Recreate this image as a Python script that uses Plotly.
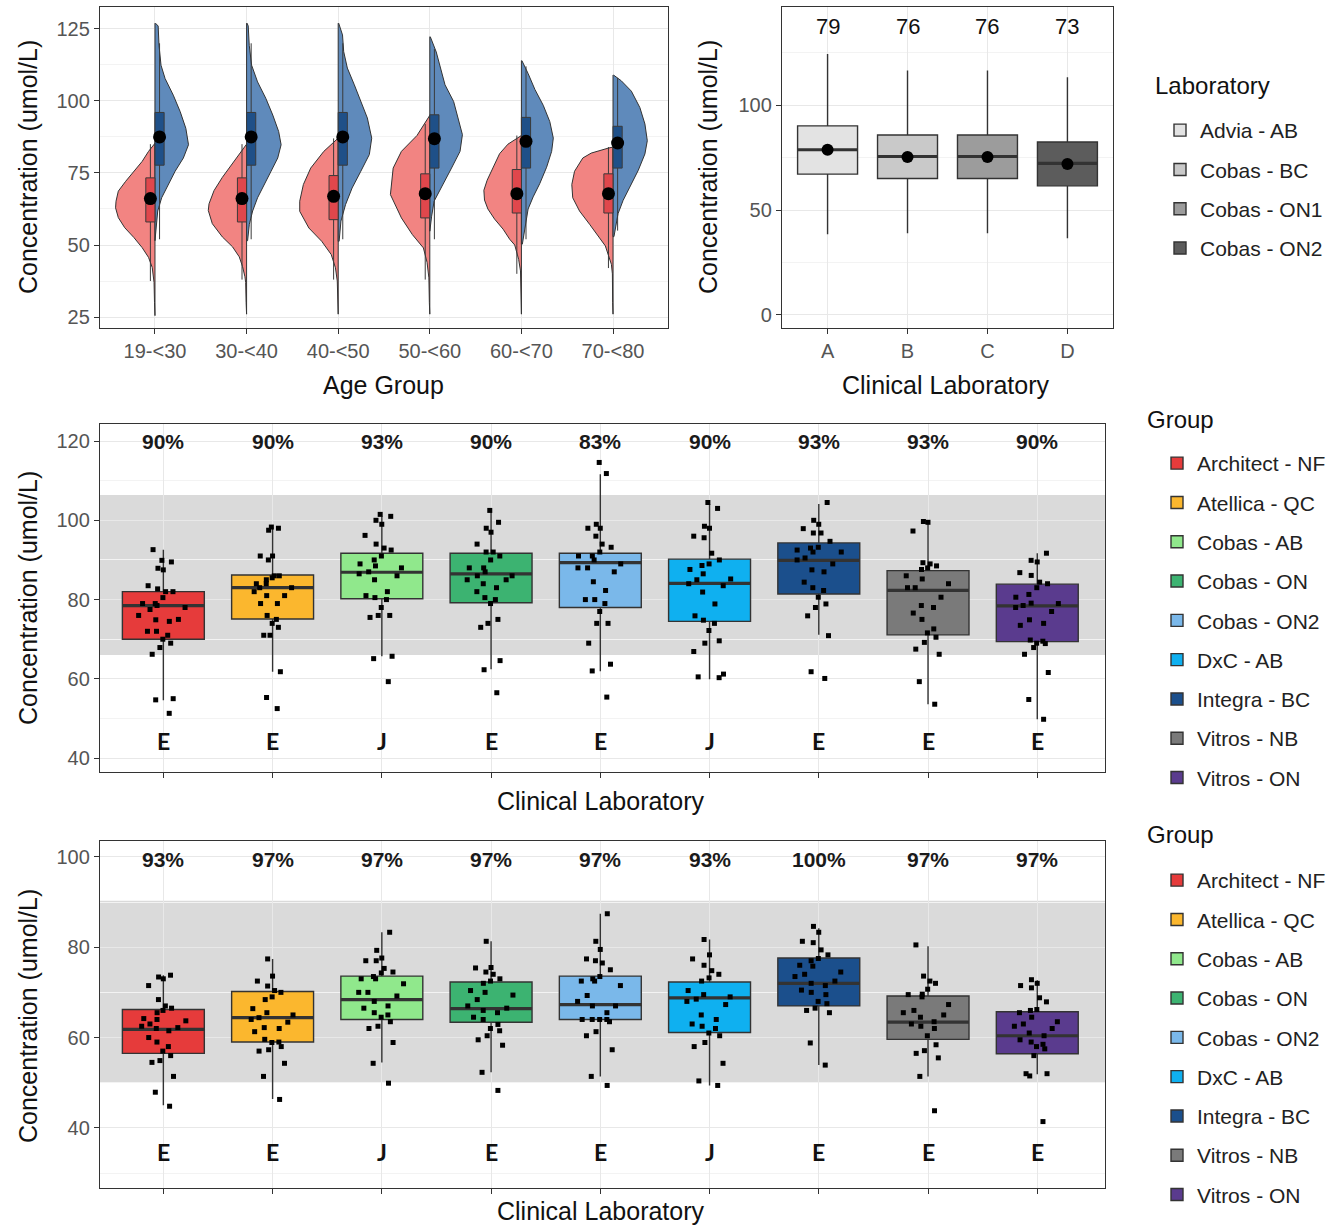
import plotly.graph_objects as go

# ---------------- DATA ----------------
# Panel 1: split violins by age group (female = red, left; male = blue, right)
age_groups = ['19-<30', '30-<40', '40-<50', '50-<60', '60-<70', '70-<80']

# density profiles: concentration levels and relative half-width density (hundredths)
female_levels = [
    [85.3, 82.5, 79.0, 75.6, 72.1, 68.7, 65.2, 62.9, 59.5, 56.0, 52.6, 49.1, 45.7, 42.2, 38.8, 37.0, 30.0, 25.5],
    [85.0, 81.6, 78.1, 73.5, 68.9, 64.3, 62.0, 57.4, 52.8, 49.4, 45.9, 42.5, 39.0, 37.0, 30.0, 26.0],
    [87.1, 82.5, 76.7, 71.0, 65.2, 61.7, 55.9, 51.3, 46.7, 42.1, 37.5, 30.0, 26.0],
    [95.0, 88.0, 82.5, 76.7, 67.5, 59.4, 53.6, 49.0, 44.0, 38.6, 30.0, 26.0],
    [88.0, 85.0, 81.7, 77.0, 72.5, 69.0, 65.6, 62.5, 59.0, 55.5, 52.0, 50.0, 45.0, 41.0, 30.0, 26.0],
    [84.0, 83.6, 81.9, 80.2, 75.6, 71.0, 66.4, 61.8, 57.2, 52.6, 49.7, 43.3, 40.0, 30.0, 26.0],
]
female_density = [
    [0, 7, 14, 23, 32, 40, 42.5, 43, 40, 33, 23, 14, 7, 3, 2, 1, 0.5, 0.3],
    [0, 8, 15.4, 26.4, 35.5, 41, 41.8, 37.4, 26.4, 15.4, 8, 4.4, 1.8, 1, 0.5, 0.3],
    [0, 15.7, 30, 38, 42, 42, 32, 18, 7.6, 3, 1, 0.5, 0.3],
    [0, 14, 31, 40, 43, 31, 19, 7, 3, 1, 0.5, 0.3],
    [0, 14.7, 23.8, 31, 37.4, 41, 40.3, 36.6, 29.3, 20, 12.8, 7.3, 3, 1, 0.5, 0.3],
    [0, 5.5, 23.8, 33, 42, 45, 44, 36.6, 25.6, 14.7, 8.4, 1.8, 0.7, 0.4, 0.3],
]
male_levels = [
    [127.0, 126.0, 119.3, 112.4, 107.8, 102.0, 96.3, 90.5, 84.8, 80.2, 75.6, 71.0, 66.4, 61.8, 56.0, 51.5],
    [127.0, 126.0, 119.3, 112.4, 106.6, 100.9, 95.1, 89.4, 84.8, 80.2, 75.6, 71.0, 66.4, 61.8, 57.2, 51.5],
    [127.0, 122.9, 117.1, 111.4, 105.6, 99.8, 94.1, 87.1, 81.4, 75.6, 69.8, 64.0, 58.3, 51.3],
    [122.3, 117.0, 105.6, 99.8, 88.3, 82.5, 76.7, 69.8, 65.2, 60.0, 54.8],
    [114.0, 109.5, 104.0, 98.5, 92.8, 87.1, 82.5, 77.0, 71.3, 66.7, 62.5, 57.5, 50.3],
    [109.0, 107.0, 103.4, 97.7, 92.0, 86.2, 81.6, 75.9, 70.1, 65.5, 60.9, 52.9],
]
male_density = [
    [0.5, 3.5, 4.4, 6.6, 11, 20, 27.5, 33.7, 36.6, 31, 22, 14.7, 7.3, 3, 1.5, 0.7],
    [0.5, 1.8, 2.9, 5.5, 12, 21, 28.6, 35, 37.7, 34, 26.7, 19.4, 12, 6.6, 3, 1.1],
    [0.5, 4.7, 6, 10, 17.6, 24.7, 31.8, 36.6, 34, 24.7, 15.2, 8, 3, 1],
    [0.5, 7, 16.6, 26, 35.6, 33, 23.7, 12, 4.7, 2, 0.8],
    [0.5, 7.3, 14.7, 23.8, 31, 34.8, 33, 27.5, 20, 12.8, 7.3, 4.4, 1],
    [0.5, 9, 20, 29.3, 34.8, 37.4, 34.8, 27.5, 18.3, 11, 5.5, 1],
]
# narrow boxplots inside violins
female_q1 = [58.0, 58.0, 58.8, 59.4, 61.1, 61.1]
female_med = [66.1, 66.1, 66.9, 67.8, 67.8, 67.8]
female_q3 = [73.3, 73.3, 74.1, 74.7, 76.2, 74.7]
female_lo = [37.5, 38.0, 38.0, 38.0, 40.0, 42.0]
female_hi = [85.0, 85.0, 87.0, 92.0, 88.0, 84.0]
female_mean = [66.1, 66.1, 66.9, 67.8, 67.8, 67.8]
male_q1 = [77.7, 77.7, 77.7, 76.7, 76.7, 76.7]
male_med = [87.5, 87.5, 87.5, 86.9, 86.0, 85.4]
male_q3 = [96.0, 96.0, 96.0, 95.2, 94.3, 91.2]
male_lo = [52.0, 52.0, 52.0, 52.0, 52.0, 55.0]
male_hi = [120.0, 120.0, 120.0, 118.0, 112.0, 108.0]
male_mean = [87.5, 87.5, 87.5, 86.9, 86.0, 85.4]

# Panel 2: laboratories
lab_codes = ['A', 'B', 'C', 'D']
lab_names = ['Advia - AB', 'Cobas - BC', 'Cobas - ON1', 'Cobas - ON2']
lab_q1 = [67.1, 65.0, 65.0, 61.5]
lab_med = [78.7, 75.5, 75.5, 72.2]
lab_q3 = [90.1, 85.7, 85.7, 82.4]
lab_lo = [38.5, 38.9, 38.9, 36.6]
lab_hi = [124.3, 116.4, 116.4, 113.2]
lab_mean = [78.7, 75.3, 75.3, 71.9]
lab_labels = ['79', '76', '76', '73']
lab_colors = ['#e3e3e3', '#c9c9c9', '#9c9c9c', '#5c5c5c']

# Panels 3 & 4: groups
groups = ['Architect - NF', 'Atellica - QC', 'Cobas - AB', 'Cobas - ON', 'Cobas - ON2',
          'DxC - AB', 'Integra - BC', 'Vitros - NB', 'Vitros - ON']
group_colors = ['#e63b3b', '#fbb72e', '#90e88c', '#3cb371', '#7ab8ea',
                '#0fb0f0', '#1b4f8c', '#7a7a7a', '#5a3b8e']

mid_pts = [
    [92.6, 89.9, 89.5, 87.9, 87.5, 83.5, 82.7, 82.0, 82.0, 79.0, 79.0, 78.5, 78.0, 77.5, 75.0, 74.9, 74.5, 72.0, 72.0, 71.0, 70.0, 69.0, 67.9, 66.2, 54.7, 55.0, 51.3, 80.5, 76.0],
    [98.3, 98.0, 97.5, 91.0, 91.0, 90.0, 86.0, 86.0, 85.5, 85.0, 84.0, 84.0, 83.0, 83.0, 82.0, 81.0, 81.0, 79.0, 79.0, 76.0, 75.0, 74.0, 73.0, 71.0, 71.0, 61.8, 55.3, 52.5],
    [101.5, 101.0, 100.0, 99.0, 96.2, 94.0, 93.0, 92.5, 91.0, 90.0, 89.0, 88.5, 88.0, 86.5, 86.0, 85.0, 82.0, 81.0, 80.5, 80.0, 78.0, 76.0, 76.0, 75.5, 65.7, 65.1, 59.3, 87.0],
    [102.5, 99.5, 98.0, 97.0, 94.0, 92.0, 92.0, 91.0, 90.0, 88.0, 88.0, 87.0, 86.0, 86.0, 85.0, 85.0, 84.0, 83.0, 82.0, 80.5, 80.0, 79.0, 75.0, 74.0, 73.0, 64.6, 62.3, 56.5],
    [114.6, 111.8, 99.0, 98.0, 98.0, 96.0, 94.0, 93.2, 92.0, 91.0, 91.0, 90.0, 89.0, 88.0, 88.0, 87.0, 84.5, 82.3, 80.0, 80.0, 79.0, 77.0, 74.0, 74.0, 69.0, 63.7, 62.0, 55.4],
    [104.5, 103.0, 98.5, 98.0, 96.0, 95.6, 91.7, 90.0, 89.0, 88.6, 87.6, 86.5, 85.2, 85.0, 84.0, 83.5, 81.9, 78.9, 75.9, 74.8, 74.0, 72.2, 69.6, 69.0, 66.9, 61.2, 60.3, 60.5],
    [104.5, 100.0, 99.0, 97.9, 96.8, 96.8, 94.7, 93.2, 93.0, 92.5, 92.0, 92.0, 90.5, 90.0, 89.0, 87.5, 87.0, 84.4, 82.3, 83.0, 80.6, 78.9, 78.0, 75.9, 70.9, 61.8, 60.1],
    [99.7, 99.5, 97.3, 89.3, 89.0, 88.5, 88.0, 87.6, 85.2, 86.0, 84.0, 83.0, 83.0, 80.6, 78.5, 78.0, 76.6, 75.0, 72.6, 71.6, 70.5, 69.2, 67.5, 66.2, 59.3, 53.6],
    [91.7, 89.9, 89.5, 86.8, 86.1, 84.4, 84.0, 83.0, 81.3, 80.6, 79.1, 79.0, 78.5, 78.0, 77.0, 74.9, 74.0, 73.5, 69.8, 69.5, 69.0, 68.9, 67.9, 66.2, 61.6, 54.8, 49.8],
]
mid_q1 = [70.0, 75.1, 80.2, 79.2, 78.0, 74.5, 81.4, 71.1, 69.4]
mid_med = [78.5, 83.0, 86.9, 86.5, 89.3, 84.1, 89.9, 82.3, 78.4]
mid_q3 = [82.0, 86.2, 91.7, 91.7, 91.7, 90.2, 94.3, 87.3, 83.9]
mid_lo = [54.6, 61.8, 65.7, 62.4, 61.9, 59.9, 71.1, 53.6, 49.8]
mid_hi = [92.6, 98.3, 101.0, 102.4, 111.6, 104.1, 104.1, 99.7, 91.7]
mid_pct = ['90%', '90%', '93%', '90%', '83%', '90%', '93%', '93%', '90%']
mid_letter = ['E', 'E', 'J', 'E', 'E', 'J', 'E', 'E', 'E']
mid_ref = [66.0, 106.4]

bot_pts = [
    [73.8, 73.4, 73.0, 71.5, 68.4, 67.0, 66.5, 66.0, 65.5, 64.2, 64.0, 63.7, 63.0, 62.5, 62.2, 62.0, 61.5, 60.0, 59.0, 58.0, 57.0, 56.0, 54.9, 54.5, 51.4, 47.9, 44.8],
    [77.4, 73.6, 72.5, 71.4, 70.4, 70.0, 69.0, 68.4, 66.4, 65.5, 65.0, 64.4, 64.0, 63.4, 62.2, 62.0, 61.3, 59.6, 59.0, 58.9, 58.0, 57.3, 57.0, 54.3, 51.4, 46.3],
    [83.3, 79.3, 77.6, 77.0, 77.0, 75.3, 74.5, 74.3, 73.5, 73.0, 73.0, 71.9, 70.0, 70.0, 69.2, 68.0, 67.0, 66.5, 65.5, 65.0, 64.5, 63.5, 62.5, 62.0, 58.9, 54.3, 49.9],
    [81.3, 75.4, 75.5, 74.5, 74.0, 73.0, 72.5, 72.0, 70.4, 70.0, 69.4, 68.4, 67.0, 66.5, 66.0, 65.5, 64.5, 64.0, 62.9, 62.0, 61.5, 60.4, 59.5, 58.3, 52.3, 48.3],
    [87.4, 81.3, 79.5, 77.4, 77.0, 76.5, 75.0, 73.5, 73.0, 72.5, 72.5, 71.5, 69.3, 68.0, 67.0, 67.0, 65.5, 64.0, 64.0, 64.0, 64.0, 63.5, 61.3, 60.4, 57.3, 51.4, 49.4],
    [81.7, 78.3, 77.4, 76.0, 74.8, 74.0, 73.2, 72.5, 70.4, 69.5, 69.0, 68.5, 68.0, 67.3, 65.0, 64.0, 63.0, 62.5, 62.0, 61.0, 60.4, 58.9, 58.0, 54.3, 50.4, 49.4],
    [84.6, 83.3, 81.3, 81.0, 79.4, 78.3, 77.5, 77.0, 76.0, 75.8, 74.5, 74.0, 73.5, 72.5, 72.0, 71.5, 70.5, 70.0, 69.5, 68.0, 67.5, 66.5, 66.0, 65.5, 58.8, 53.9],
    [80.5, 73.6, 72.5, 72.0, 70.7, 69.6, 69.5, 69.0, 67.3, 66.0, 65.5, 65.0, 64.5, 63.5, 63.0, 62.5, 62.0, 60.4, 58.4, 57.1, 56.5, 55.5, 51.4, 43.8],
    [72.8, 72.0, 71.5, 71.0, 68.8, 67.9, 66.2, 66.0, 65.5, 64.5, 63.5, 63.0, 62.5, 62.0, 61.0, 60.4, 59.5, 59.0, 58.5, 58.0, 57.5, 56.0, 52.0, 52.0, 51.5, 41.4],
]
bot_q1 = [56.5, 59.0, 64.0, 63.4, 64.0, 61.1, 67.0, 59.6, 56.4]
bot_med = [61.8, 64.4, 68.4, 66.4, 67.3, 68.8, 72.0, 63.4, 60.4]
bot_q3 = [66.2, 70.2, 73.6, 72.3, 73.6, 72.3, 77.6, 69.2, 65.7]
bot_lo = [45.0, 46.4, 54.5, 52.3, 51.4, 49.4, 53.9, 51.4, 51.9]
bot_hi = [73.8, 77.4, 83.3, 81.3, 87.4, 81.7, 84.2, 80.2, 72.7]
bot_pct = ['93%', '97%', '97%', '97%', '97%', '93%', '100%', '97%', '97%']
bot_letter = ['E', 'E', 'J', 'E', 'E', 'J', 'E', 'E', 'E']
bot_ref = [50.1, 90.3]

# ---------------- STYLE / LAYOUT ----------------
W, H = 1342, 1227
FONT = 'Liberation Sans, Arial, sans-serif'
LINE = '#333333'


def dx(a, b):
    return [a / W, b / W]


def dy(top, bottom):
    return [1 - bottom / H, 1 - top / H]


fig = go.Figure()

# ---- Panel 1: split violins (base axes) ----
VIOLIN_RED = '#f28482'
VIOLIN_BLUE = '#5f8abb'
BOX_RED = '#e0474c'
BOX_BLUE = '#1f5088'
for i in range(len(age_groups)):
    ys = female_levels[i]
    ds = female_density[i]
    xs = [i - d / 100 for d in ds] + [i, i]
    yy = list(ys) + [ys[-1], ys[0]]
    fig.add_trace(go.Scatter(x=xs, y=yy, fill='toself', fillcolor=VIOLIN_RED, mode='lines',
                             line=dict(color=LINE, width=1), showlegend=False, hoverinfo='skip',
                             xaxis='x', yaxis='y'))
    ys = male_levels[i]
    ds = male_density[i]
    xs = [i + d / 100 for d in ds] + [i, i]
    yy = list(ys) + [ys[-1], ys[0]]
    fig.add_trace(go.Scatter(x=xs, y=yy, fill='toself', fillcolor=VIOLIN_BLUE, mode='lines',
                             line=dict(color=LINE, width=1), showlegend=False, hoverinfo='skip',
                             xaxis='x', yaxis='y'))

# narrow boxes + means on an overlaying axis pair so they sit above the violins
pos = list(range(len(age_groups)))
fig.add_trace(go.Box(x=[p - 0.05 for p in pos], q1=female_q1, median=female_med, q3=female_q3,
                     lowerfence=female_lo, upperfence=female_hi, width=0.1, whiskerwidth=0,
                     fillcolor=BOX_RED, line=dict(color='#3a3a3a', width=1), showlegend=False,
                     xaxis='x5', yaxis='y5'))
fig.add_trace(go.Box(x=[p + 0.05 for p in pos], q1=male_q1, median=male_med, q3=male_q3,
                     lowerfence=male_lo, upperfence=male_hi, width=0.1, whiskerwidth=0,
                     fillcolor=BOX_BLUE, line=dict(color='#3a3a3a', width=1), showlegend=False,
                     xaxis='x5', yaxis='y5'))
fig.add_trace(go.Scatter(x=[p - 0.05 for p in pos], y=female_mean, mode='markers',
                         marker=dict(color='black', size=13), showlegend=False, xaxis='x5', yaxis='y5'))
fig.add_trace(go.Scatter(x=[p + 0.05 for p in pos], y=male_mean, mode='markers',
                         marker=dict(color='black', size=13), showlegend=False, xaxis='x5', yaxis='y5'))

# ---- Panel 2: labs ----
for i, code in enumerate(lab_codes):
    fig.add_trace(go.Box(x=[code], q1=[lab_q1[i]], median=[lab_med[i]], q3=[lab_q3[i]],
                         lowerfence=[lab_lo[i]], upperfence=[lab_hi[i]], width=0.75, whiskerwidth=0,
                         fillcolor=lab_colors[i], line=dict(color=LINE, width=1.4),
                         name=lab_names[i], legend='legend', legendgroup='L' + str(i),
                         xaxis='x2', yaxis='y2'))
for i, code in enumerate(lab_codes):
    # thick median bar
    fig.add_trace(go.Box(x=[code], q1=[lab_med[i]], median=[lab_med[i]], q3=[lab_med[i]],
                         lowerfence=[lab_med[i]], upperfence=[lab_med[i]], width=0.75, whiskerwidth=0,
                         fillcolor='rgba(0,0,0,0)', line=dict(color=LINE, width=3.2),
                         showlegend=False, hoverinfo='skip', legendgroup='L' + str(i),
                         xaxis='x2', yaxis='y2'))
fig.add_trace(go.Scatter(x=lab_codes, y=lab_mean, mode='markers', marker=dict(color='black', size=12),
                         showlegend=False, xaxis='x2', yaxis='y2'))


# ---- Panels 3 & 4 ----
def add_group_panel(pts, q1, med, q3, lo, hi, xa, ya, leg):
    for i, g in enumerate(groups):
        fig.add_trace(go.Box(x=[g], q1=[q1[i]], median=[med[i]], q3=[q3[i]], lowerfence=[lo[i]],
                             upperfence=[hi[i]], width=0.75, whiskerwidth=0, fillcolor=group_colors[i],
                             line=dict(color=LINE, width=1.4), name=g, legend=leg,
                             legendgroup=leg + g, xaxis=xa, yaxis=ya))
    for i, g in enumerate(groups):
        fig.add_trace(go.Box(x=[g], q1=[med[i]], median=[med[i]], q3=[med[i]], lowerfence=[med[i]],
                             upperfence=[med[i]], width=0.75, whiskerwidth=0,
                             fillcolor='rgba(0,0,0,0)', line=dict(color=LINE, width=3.2),
                             showlegend=False, hoverinfo='skip', legendgroup=leg + g,
                             xaxis=xa, yaxis=ya))
    for i, g in enumerate(groups):
        fig.add_trace(go.Box(x=[g] * len(pts[i]), y=pts[i], boxpoints='all', jitter=0.62, pointpos=0,
                             width=0.75, whiskerwidth=0, fillcolor='rgba(0,0,0,0)',
                             line=dict(color='rgba(0,0,0,0)', width=0),
                             marker=dict(color='black', size=5, symbol='square'),
                             showlegend=False, hoverinfo='skip', legendgroup=leg + g,
                             xaxis=xa, yaxis=ya))


add_group_panel(mid_pts, mid_q1, mid_med, mid_q3, mid_lo, mid_hi, 'x3', 'y3', 'legend2')
add_group_panel(bot_pts, bot_q1, bot_med, bot_q3, bot_lo, bot_hi, 'x4', 'y4', 'legend3')

# reference-interval bands
fig.add_shape(type='rect', xref='x3 domain', yref='y3', x0=0, x1=1, y0=mid_ref[0], y1=mid_ref[1],
              fillcolor='#dadada', line_width=0, layer='below')
fig.add_shape(type='rect', xref='x4 domain', yref='y4', x0=0, x1=1, y0=bot_ref[0], y1=bot_ref[1],
              fillcolor='#dadada', line_width=0, layer='below')

# ---- axes ----
common = dict(showline=True, mirror=True, linecolor=LINE, linewidth=1.4, ticks='outside', ticklen=5,
              tickcolor=LINE, tickwidth=1, gridcolor='#e8e8e8', gridwidth=1, zeroline=False,
              tickfont=dict(family=FONT, size=20, color='#555555'))
minor_grid = dict(showgrid=True, gridcolor='#f3f3f3', gridwidth=1, ticks='')
P1X = [-0.6, 5.6]
P1Y = [21.2, 132.6]

fig.update_layout(
    xaxis=dict(domain=dx(100, 668), anchor='y', range=P1X, tickvals=pos, ticktext=age_groups,
               **common),
    yaxis=dict(domain=dy(7, 328), anchor='x', range=P1Y, tickvals=[25, 50, 75, 100, 125],
               minor=dict(tickvals=[37.5, 62.5, 87.5, 112.5], **minor_grid), **common),
    xaxis5=dict(overlaying='x', anchor='y5', range=P1X, visible=False),
    yaxis5=dict(overlaying='y', anchor='x5', range=P1Y, visible=False),
    xaxis2=dict(domain=dx(782, 1113), anchor='y2', range=[-0.57, 3.57], type='category',
                categoryorder='array', categoryarray=lab_codes, **common),
    yaxis2=dict(domain=dy(7, 328), anchor='x2', range=[-6.2, 146.7], tickvals=[0, 50, 100],
                minor=dict(tickvals=[25, 75, 125], **minor_grid), **common),
    xaxis3=dict(domain=dx(100, 1105), anchor='y3', range=[-0.58, 8.62], type='category',
                categoryorder='array', categoryarray=groups, showticklabels=False, **common),
    yaxis3=dict(domain=dy(424, 772), anchor='x3', range=[36.5, 124.3], tickvals=[40, 60, 80, 100, 120],
                minor=dict(tickvals=[50, 70, 90, 110], **minor_grid), **common),
    xaxis4=dict(domain=dx(100, 1105), anchor='y4', range=[-0.58, 8.62], type='category',
                categoryorder='array', categoryarray=groups, showticklabels=False, **common),
    yaxis4=dict(domain=dy(841, 1188), anchor='x4', range=[26.7, 103.5], tickvals=[40, 60, 80, 100],
                minor=dict(tickvals=[30, 50, 70, 90], **minor_grid), **common),
)

leg_common = dict(xanchor='left', yanchor='top', bgcolor='rgba(0,0,0,0)', borderwidth=0,
                  font=dict(family=FONT, size=21, color='#222222'), tracegroupgap=9,
                  traceorder='grouped')
fig.update_layout(
    legend=dict(x=1160 / W, y=1 - 110 / H, **leg_common),
    legend2=dict(x=1157 / W, y=1 - 443 / H, **leg_common),
    legend3=dict(x=1157 / W, y=1 - 860 / H, **leg_common),
)

# ---- text annotations ----
ann = []


def paper_text(x, y, text, size, angle=0, color='#111111', family=FONT, xanchor='center'):
    ann.append(dict(xref='paper', yref='paper', x=x / W, y=1 - y / H, text=text, showarrow=False,
                    textangle=angle, xanchor=xanchor, yanchor='middle',
                    font=dict(family=family, size=size, color=color)))


# axis titles
paper_text(28, 167, 'Concentration (umol/L)', 25, angle=-90)
paper_text(708, 167, 'Concentration (umol/L)', 25, angle=-90)
paper_text(28, 598, 'Concentration (umol/L)', 25, angle=-90)
paper_text(28, 1016, 'Concentration (umol/L)', 25, angle=-90)
paper_text(383, 385, 'Age Group', 25)
paper_text(946, 385, 'Clinical Laboratory', 25)
paper_text(601, 801, 'Clinical Laboratory', 25)
paper_text(601, 1211, 'Clinical Laboratory', 25)
# legend titles
paper_text(1153, 86, 'Laboratory', 24, xanchor='left')
paper_text(1145, 419, 'Group', 24, xanchor='left')
paper_text(1145, 834, 'Group', 24, xanchor='left')

for i, code in enumerate(lab_codes):
    ann.append(dict(xref='x2', yref='y2', x=code, y=137.4, text=lab_labels[i], showarrow=False,
                    font=dict(family=FONT, size=22, color='#111111')))
for i, g in enumerate(groups):
    ann.append(dict(xref='x3', yref='y3', x=g, y=120, text=mid_pct[i], showarrow=False,
                    font=dict(family=FONT, size=21, color='#1a1a1a', weight='bold')))
    ann.append(dict(xref='x3', yref='y3', x=g, y=44.3, text=mid_letter[i], showarrow=False,
                    font=dict(family='Lato, ' + FONT, size=23, color='#111111', weight='bold')))
    ann.append(dict(xref='x4', yref='y4', x=g, y=99.3, text=bot_pct[i], showarrow=False,
                    font=dict(family=FONT, size=21, color='#1a1a1a', weight='bold')))
    ann.append(dict(xref='x4', yref='y4', x=g, y=34.7, text=bot_letter[i], showarrow=False,
                    font=dict(family='Lato, ' + FONT, size=23, color='#111111', weight='bold')))

fig.update_layout(
    annotations=ann,
    width=W, height=H,
    margin=dict(l=0, r=0, t=0, b=0),
    paper_bgcolor='white', plot_bgcolor='white',
    boxmode='overlay',
    font=dict(family=FONT),
)

fig.write_html('out.html', config={'displayModeBar': False},
               post_script="document.body.style.margin='0';")
